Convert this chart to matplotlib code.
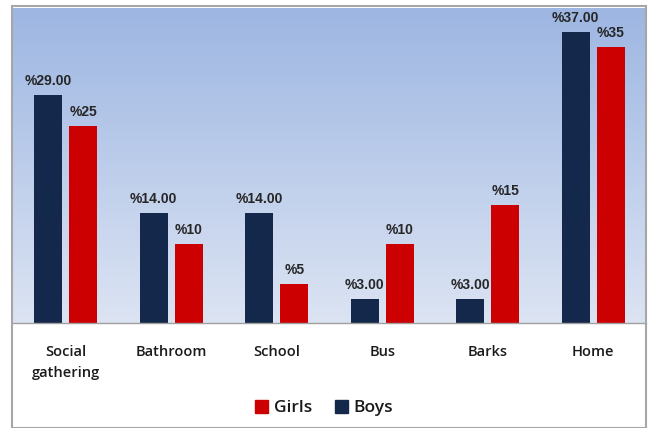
import matplotlib
matplotlib.use("Agg")
import matplotlib.pyplot as plt
import numpy as np
from matplotlib.patches import Rectangle, Patch
from matplotlib.colors import LinearSegmentedColormap

categories = ["Social\ngathering", "Bathroom", "School", "Bus", "Barks", "Home"]
boys = [29, 14, 14, 3, 3, 37]
girls = [25, 10, 5, 10, 15, 35]
boys_labels = ["%29.00", "%14.00", "%14.00", "%3.00", "%3.00", "%37.00"]
girls_labels = ["%25", "%10", "%5", "%10", "%15", "%35"]

BOY_C = "#13284a"
GIRL_C = "#cc0000"

fig = plt.figure(figsize=(6.48, 4.28), dpi=100)
fig.patch.set_facecolor("white")
ax = fig.add_axes([13/648, 105/428, 633/648, 315/428])

x = np.arange(len(categories))
w = 0.265
off = 0.168

# gradient background
cmap = LinearSegmentedColormap.from_list("bg", ["#dce4f3", "#9db6e2"])
grad = np.linspace(0, 1, 256).reshape(-1, 1)
ax.imshow(grad, extent=[-0.5, len(categories) - 0.5, 0, 40], origin="lower",
          aspect="auto", cmap=cmap, zorder=0)

bb = ax.bar(x - off, boys, w, color=BOY_C, zorder=2, label="Boys")
gb = ax.bar(x + off, girls, w, color=GIRL_C, zorder=2, label="Girls")

lab_font = dict(family="Liberation Sans", fontsize=10, fontweight="bold", color="#262626")
for xi, v, t in zip(x, boys, boys_labels):
    ax.text(xi - off, v + 0.9, t, ha="center", va="bottom", zorder=3, **lab_font)
for xi, v, t in zip(x, girls, girls_labels):
    ax.text(xi + off, v + 0.9, t, ha="center", va="bottom", zorder=3, **lab_font)

ax.set_xlim(-0.5, len(categories) - 0.5)
ax.set_ylim(0, 40)
ax.set_yticks([])
ax.set_xticks(x)
ax.set_xticklabels(categories, family="Open Sans", fontsize=10.5, fontweight="semibold",
                   color="#1a1a1a", linespacing=1.6)
ax.tick_params(axis="x", length=0, pad=16)
for s in ["top", "left", "right"]:
    ax.spines[s].set_visible(False)
ax.spines["bottom"].set_color("#a0a0a0")
ax.spines["bottom"].set_linewidth(1.0)

handles = [Patch(color=GIRL_C), Patch(color=BOY_C)]
leg = fig.legend(handles, ["Girls", "Boys"], loc="center", bbox_to_anchor=(0.5, 1 - 408/428),
                 ncol=2, frameon=False, handlelength=0.75, handleheight=0.75,
                 handletextpad=0.35, columnspacing=1.3,
                 prop=dict(family="Open Sans", size=12.5, weight="semibold"))
for t in leg.get_texts():
    t.set_color("#1a1a1a")

# outer frame
fig.patches.append(Rectangle((12/648, 0), 634/648, 422/428, transform=fig.transFigure,
                             fill=False, edgecolor="#a6a6a6", linewidth=1.5, zorder=0))

fig.savefig("out.png", dpi=100)
